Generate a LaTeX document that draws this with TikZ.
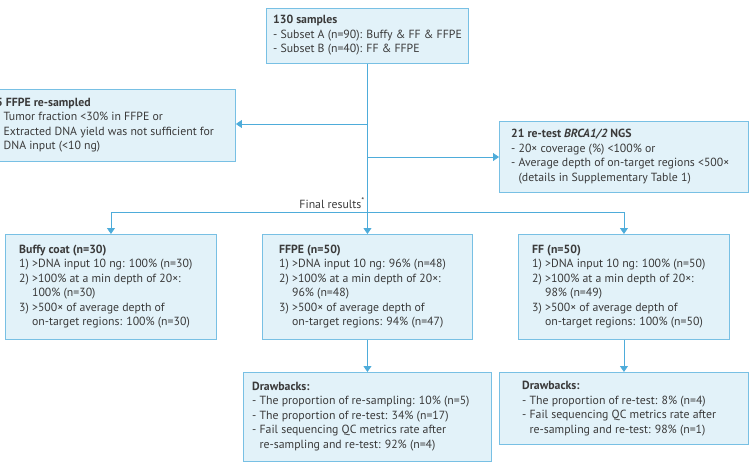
\documentclass[tikz,border=0pt]{standalone}
\usepackage{fontspec}
\setmainfont{PT Sans}
\usetikzlibrary{arrows.meta}
\definecolor{boxfill}{RGB}{226,242,249}
\definecolor{boxline}{RGB}{120,192,228}
\definecolor{conn}{RGB}{78,172,218}
\definecolor{txt}{RGB}{58,58,58}
\begin{document}
\begin{tikzpicture}[x=1pt,y=-1pt,
  box/.style={draw=boxline,fill=boxfill,line width=0.9pt,inner sep=0pt,anchor=north west},
  boxtext/.style={anchor=west,align=left,inner sep=0pt,text=txt,font=\fontsize{11.8}{14.5}\selectfont},
  arr/.style={draw=conn,line width=0.8pt,-{Triangle[width=8pt,length=6pt]}},
  ln/.style={draw=conn,line width=0.8pt}]
\useasboundingbox (0,0) rectangle (752,463);
% boxes
\node[box,minimum width=202pt,minimum height=55pt] (top) at (266,8) {};
\node[box,minimum width=247pt,minimum height=72pt] (left) at (-12,89) {};
\node[box,minimum width=249pt,minimum height=71pt] (right) at (499,121) {};
\node[box,minimum width=211pt,minimum height=105pt] (buffy) at (5,234) {};
\node[box,minimum width=210pt,minimum height=105pt] (ffpe) at (262,234) {};
\node[box,minimum width=211pt,minimum height=105pt] (ff) at (518,234) {};
\node[box,minimum width=248pt,minimum height=89pt] (dbA) at (243,372) {};
\node[box,minimum width=249pt,minimum height=72pt] (dbB) at (499,372) {};
% texts
\node[boxtext] (topT) at (273,35.5) {\textbf{130 samples}\\- Subset A (n=90): Buffy \& FF \& FFPE\\- Subset B (n=40): FF \& FFPE};
\node[boxtext] (leftT) at (-4,125) {\textbf{5 FFPE re-sampled}\\- Tumor fraction <30\% in FFPE or\\- Extracted DNA yield was not sufficient for\\\hphantom{- }DNA input (<10 ng)};
\node[boxtext] (rightT) at (511,156.5) {\textbf{21 re-test \textit{BRCA1/2} NGS}\\- 20× coverage (\%) <100\% or\\- Average depth of on-target regions <500×\\\hphantom{- }(details in Supplementary Table 1)};
\node[boxtext] (buffyT) at (19,286.5) {\textbf{Buffy coat (n=30)}\\1) >DNA input 10 ng: 100\% (n=30)\\2) >100\% at a min depth of 20×:\\\hphantom{2) }100\% (n=30)\\3) >500× of average depth of\\\hphantom{3) }on-target regions: 100\% (n=30)};
\node[boxtext] (ffpeT) at (279,286.5) {\textbf{FFPE (n=50)}\\1) >DNA input 10 ng: 96\% (n=48)\\2) >100\% at a min depth of 20×:\\\hphantom{2) }96\% (n=48)\\3) >500× of average depth of\\\hphantom{3) }on-target regions: 94\% (n=47)};
\node[boxtext] (ffT) at (532,286.5) {\textbf{FF (n=50)}\\1) >DNA input 10 ng: 100\% (n=50)\\2) >100\% at a min depth of 20×:\\\hphantom{2) }98\% (n=49)\\3) >500× of average depth of\\\hphantom{3) }on-target regions: 100\% (n=50)};
\node[boxtext] (dbAT) at (252,416.5) {\textbf{Drawbacks:}\\- The proportion of re-sampling: 10\% (n=5)\\- The proportion of re-test: 34\% (n=17)\\- Fail sequencing QC metrics rate after\\\hphantom{- }re-sampling and re-test: 92\% (n=4)};
\node[boxtext] (dbBT) at (522,408.5) {\textbf{Drawbacks:}\\- The proportion of re-test: 8\% (n=4)\\- Fail sequencing QC metrics rate after\\\hphantom{- }re-sampling and re-test: 98\% (n=1)};
\node[anchor=east,inner sep=0pt,text=txt,font=\fontsize{11.8}{13}\selectfont] (final) at (365,203) {Final results\textsuperscript{*}};
% connectors
\coordinate (jl) at (367,124);
\coordinate (jr) at (367,157);
\coordinate (jh) at (367,212);
\draw[arr] (top.south) -- (ffpe.north);
\draw[arr] (jl) -- (jl -| left.east);
\draw[arr] (jr) -- (jr -| right.west);
\draw[ln] (buffy.north |- jh) -- (ff.north |- jh);
\draw[arr] (buffy.north |- jh) -- (buffy.north);
\draw[arr] (ff.north |- jh) -- (ff.north);
\draw[arr] (ffpe.south) -- (dbA.north);
\draw[arr] (ff.south) -- (dbB.north);
\end{tikzpicture}
\end{document}
